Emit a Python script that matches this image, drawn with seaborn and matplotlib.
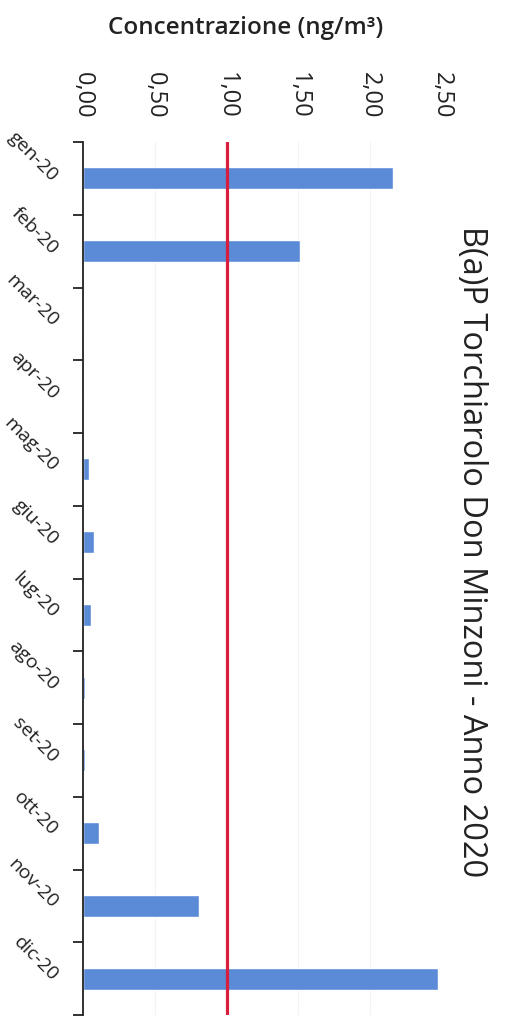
import numpy as np
import pandas as pd
import matplotlib
matplotlib.use("Agg")
import matplotlib.pyplot as plt
import seaborn as sns

# ============================================================
# DATA
# ============================================================
MONTHS = ["gen-20", "feb-20", "mar-20", "apr-20", "mag-20", "giu-20",
          "lug-20", "ago-20", "set-20", "ott-20", "nov-20", "dic-20"]
BAP    = [2.16, 1.51, 0.0, 0.0, 0.04, 0.075, 0.055, 0.012, 0.012, 0.11, 0.81, 2.47]
LIMIT  = 1.0
XTICKS = [0.0, 0.5, 1.0, 1.5, 2.0, 2.5]
XTICK_LABELS = ["0,00", "0,50", "1,00", "1,50", "2,00", "2,50"]

TITLE  = "B(a)P Torchiarolo Don Minzoni - Anno 2020"
XLABEL = "Concentrazione (ng/m³)"

df = pd.DataFrame({"mese": MONTHS, "valore": BAP})

# ============================================================
# PLOT
# ============================================================
sns.set_style("white")
plt.rcParams["font.family"] = ["Open Sans", "DejaVu Sans"]

fig = plt.figure(figsize=(5.10, 10.17), dpi=100)
ax = fig.add_axes([83 / 510, 2 / 1017, (442 - 83) / 510, (1015 - 2 - 140) / 1017 + 0.0])

sns.barplot(data=df, x="valore", y="mese", orient="h", color="#5B8BD6",
            width=0.3, saturation=1, ax=ax)

ax.axvline(LIMIT, color="#D81E3C", lw=2.3, zorder=5)

ax.set_xlim(0, 2.5)
ax.set_ylim(len(MONTHS) - 0.5, -0.5)

# x axis on top, labels rotated
ax.xaxis.tick_top()
ax.set_xticks(XTICKS)
ax.set_xticklabels(XTICK_LABELS, rotation=-90, ha="center", va="bottom", fontsize=17)
ax.tick_params(axis="x", length=0, pad=17, colors="#222222")
ax.set_xlabel("")
ax.grid(axis="x", color="#f3f3f3", lw=0.8)
ax.set_axisbelow(True)

# y axis: ticks at category boundaries, labels at centers
ax.set_yticks(np.arange(-0.5, len(MONTHS), 1.0))
ax.set_yticklabels([])
ax.tick_params(axis="y", which="major", left=True, length=7, width=1.3,
               color="#222222", direction="out")
ax.set_yticks(np.arange(len(MONTHS)), minor=True)
ax.set_yticklabels(MONTHS, minor=True, rotation=-45, ha="right", va="center",
                   rotation_mode="anchor", fontsize=14, color="#222222")
ax.tick_params(axis="y", which="minor", left=True, length=0, pad=20)
ax.set_ylabel("")

for s in ["top", "right", "bottom"]:
    ax.spines[s].set_visible(False)
ax.spines["left"].set_color("#222222")
ax.spines["left"].set_linewidth(1.3)

fig.text(246 / 510, 1 - 28 / 1017, XLABEL, ha="center", va="center",
         fontsize=17.5, fontweight="semibold", color="#222222")
fig.text(472 / 510, 1 - 552 / 1017, TITLE, ha="center", va="center",
         rotation=-90, fontsize=23.5, color="#222222")

fig.savefig("out.png", dpi=100, facecolor="white")
